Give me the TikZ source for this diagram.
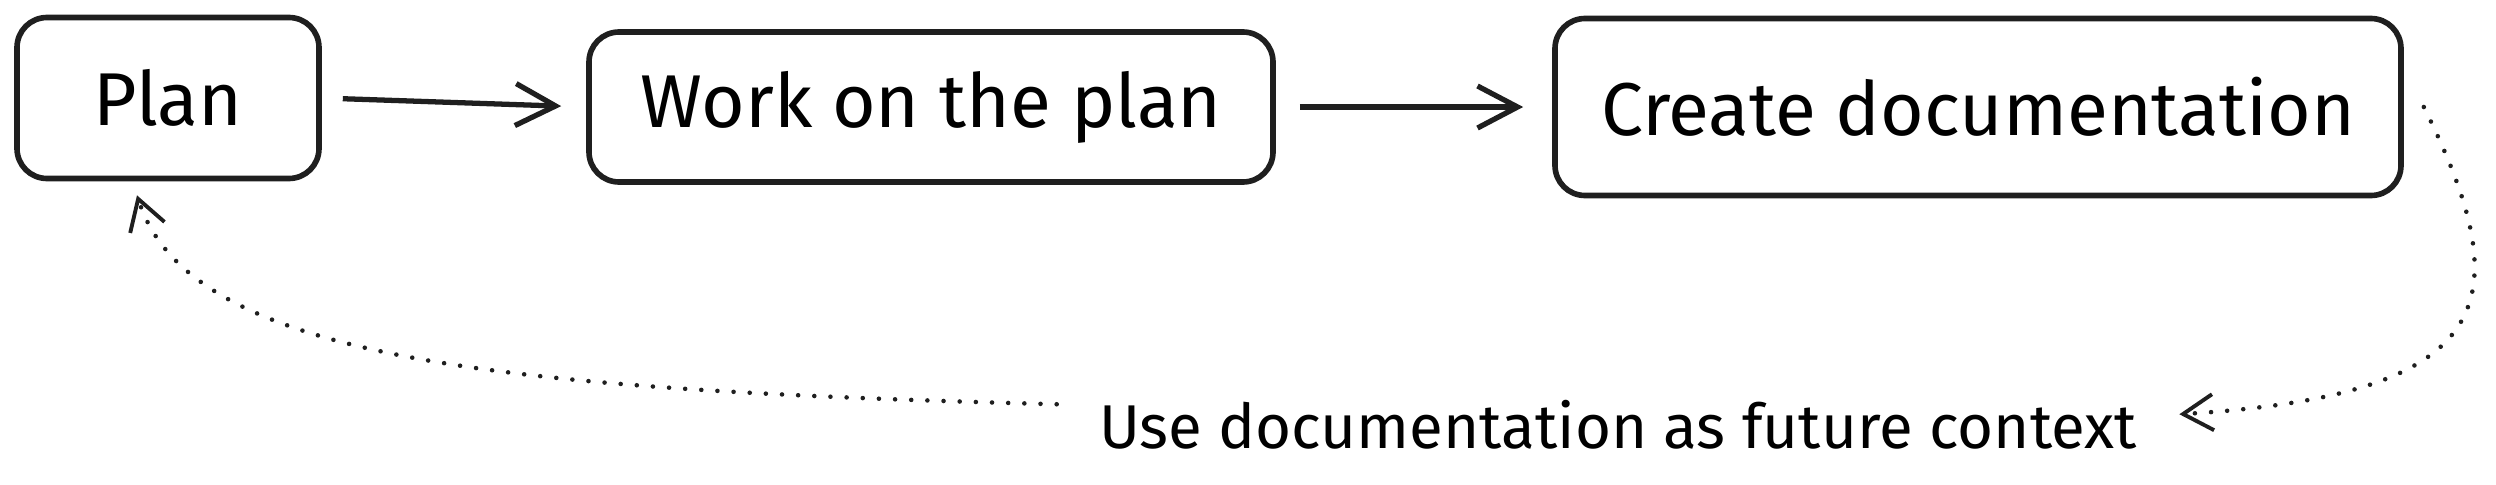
\documentclass[tikz,border=0pt]{standalone}
\usepackage{fontspec}
\setmainfont{Fira Sans}
\usetikzlibrary{arrows.meta}

\tikzset{
  stagebox/.style={draw=black!88, line width=1.6pt, rounded corners=0.3cm,
    align=center, inner sep=0pt, font=\fontsize{21.3}{24}\selectfont},
  flow/.style={draw=black!88, line width=1.5pt,
    -{Straight Barb[length=0.4cm, width=0.42cm, line width=1.5pt]}},
  loopback/.style={draw=black!88, line width=1.3pt, line cap=round,
    dash pattern=on 0pt off 4.6pt,
    -{Straight Barb[length=0.3cm, width=0.36cm, line width=1.1pt]}}
}

\begin{document}
\begin{tikzpicture}
  \useasboundingbox (0,0) rectangle (24.96,-4.85);
  \node[stagebox, minimum width=3.02cm, minimum height=1.61cm] (Plan) at (1.68,-0.98) {Plan};
  \node[stagebox, minimum width=6.84cm, minimum height=1.50cm] (Work) at (9.31,-1.07) {Work on the plan};
  \node[stagebox, minimum width=8.46cm, minimum height=1.77cm] (Create) at (19.78,-1.07) {Create documentation};
  \node[anchor=base, font=\fontsize{17.6}{20}\selectfont] (Label) at (16.18,-4.48) {Use documentation as future context};
  \draw[flow, shorten <=0.21cm, shorten >=0.25cm] (Plan.east) -- (Work.west);
  \draw[flow, shorten <=0.24cm, shorten >=0.29cm] (Work.east) -- (Create.west);
  % feedback loop
  \draw[loopback] ([xshift=0.2cm]Create.east) .. controls (25.2,-3.0) and (25.0,-3.95) .. ([shift={(0.3,0.1)}]Label.east);
  \draw[loopback] ([shift={(-0.3,0.2)}]Label.west) .. controls (5.0,-3.9) and (1.9,-3.6) .. ([shift={(-0.31,-0.14)}]Plan.south);
\end{tikzpicture}
\end{document}
